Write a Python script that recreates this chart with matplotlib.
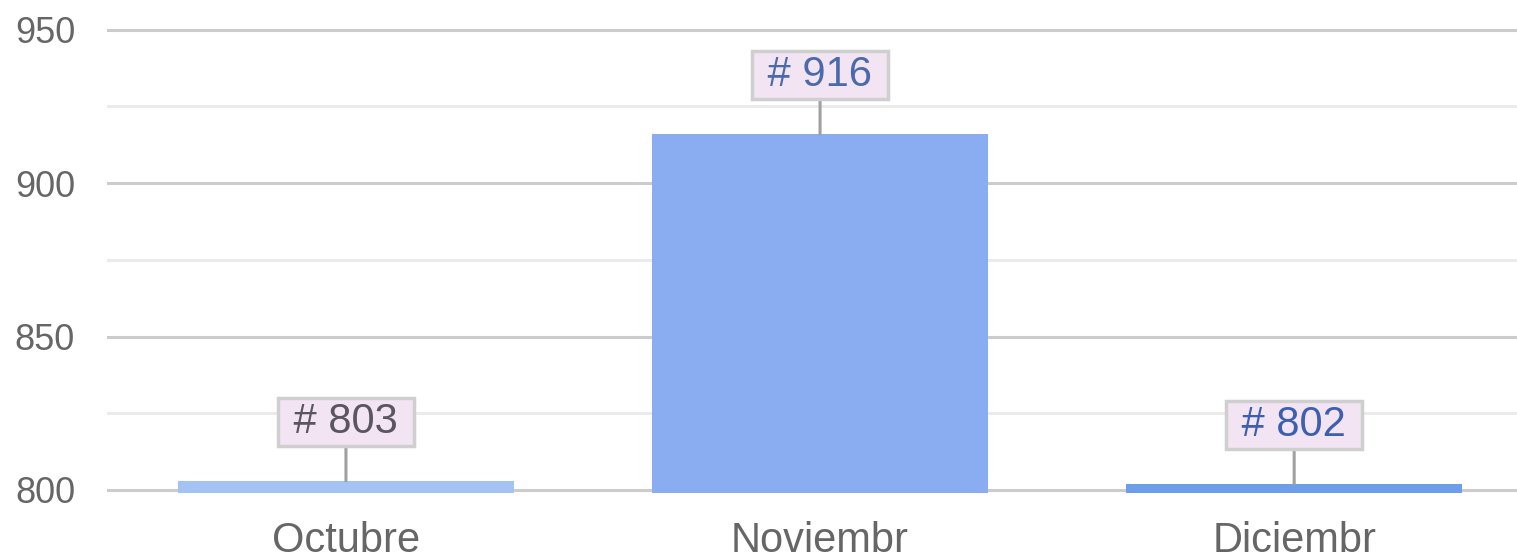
import matplotlib.pyplot as plt
import matplotlib.ticker as mticker

meses = ['Octubre', 'Noviembr', 'Diciembr']
valores = [803, 916, 802]
colores = ['#a4c2f4', '#89adf0', '#6d9eeb']
colores_texto = ['#5a5560', '#4a6aab', '#3d5fb0']

plt.rcParams['font.family'] = ['Liberation Sans', 'DejaVu Sans']

fig = plt.figure(figsize=(15.17, 5.56), dpi=100)
ax = fig.add_axes([107 / 1517, 63 / 556, 1 - 107 / 1517, 493 / 556])

pos = list(range(len(meses)))
barras = ax.bar(pos, [v - 799 for v in valores], bottom=799, width=0.71,
                color=colores, zorder=3)

ax.set_ylim(799, 959.7)
ax.set_xlim(-0.504, 2.47)
ax.yaxis.set_major_locator(mticker.MultipleLocator(50))
ax.yaxis.set_minor_locator(mticker.MultipleLocator(25))
ax.grid(axis='y', which='major', color='#cccccc', linewidth=2.2, zorder=0)
ax.grid(axis='y', which='minor', color='#ebebeb', linewidth=2.2, zorder=0)
ax.set_yticks([800, 850, 900, 950])
ax.set_xticks(pos)
ax.set_xticklabels(meses)
for s in ax.spines.values():
    s.set_visible(False)
ax.tick_params(axis='both', which='both', length=0)
ax.tick_params(axis='y', labelsize=26, labelcolor='#666666', pad=23)
ax.tick_params(axis='x', labelsize=30, labelcolor='#666666', pad=20)

for p, v, ct in zip(pos, valores, colores_texto):
    ax.annotate(' # %d ' % v, xy=(p, v), xytext=(0, 28), textcoords='offset points',
                ha='center', va='bottom', fontsize=30, color=ct,
                bbox=dict(boxstyle='square,pad=0.1', fc='#f3e4f4', ec='#cfcfcf', lw=2.5),
                arrowprops=dict(arrowstyle='-', color='#a0a0a0', lw=2.2,
                                shrinkA=0, shrinkB=0),
                zorder=5)

fig.savefig('out.png', dpi=100)
